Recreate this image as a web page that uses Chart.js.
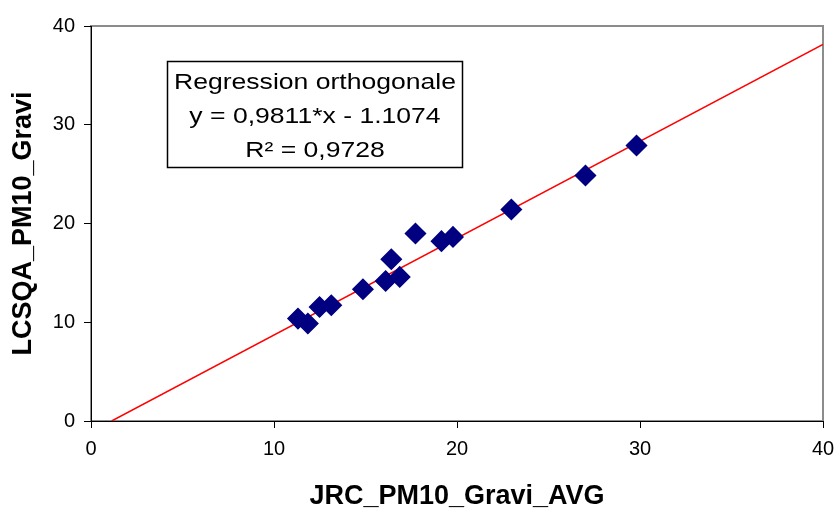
<!DOCTYPE html>
<html>
<head>
<meta charset="utf-8">
<script src="https://cdn.jsdelivr.net/npm/chart.js@4/dist/chart.umd.min.js"></script>
<style>
  html, body { margin: 0; padding: 0; background: #fff; }
  #wrap { position: relative; width: 835px; height: 509px; }
</style>
</head>
<body>
<div id="wrap"><canvas id="c"></canvas></div>
<script>
// mesures JRC vs LCSQA (PM10 gravi)
const jrcAvg = [11.31, 11.85, 12.49, 13.13, 14.86, 16.10, 16.87, 16.41, 17.73, 19.15, 19.78, 22.97, 27.02, 29.81];
const lcsqa  = [10.37, 9.87, 11.55, 11.72, 13.34, 14.18, 14.59, 16.38, 18.99, 18.21, 18.64, 21.42, 24.86, 27.90];
const fitSlope = 0.9811, fitIntercept = -1.1074;
const axisTicks = [0, 10, 20, 30, 40];
const boxLines = ["Regression orthogonale", "y = 0,9811*x - 1.1074", "R\u00b2 = 0,9728"];

const FONT = "'Liberation Sans', Arial, sans-serif";
const pts = jrcAvg.map((x, i) => ({ x: x, y: lcsqa[i] }));
const x0 = -fitIntercept / fitSlope, x1 = 40;
const fitPts = [{ x: x0, y: 0 }, { x: x1, y: fitSlope * x1 + fitIntercept }];

// cadre gris de la zone de tracé + encadré de la régression
const cadre = {
  id: "cadre",
  beforeDraw(chart) {
    const a = chart.chartArea, ctx = chart.ctx;
    ctx.save();
    ctx.strokeStyle = "#8c8c8c"; ctx.lineWidth = 2;
    ctx.strokeRect(a.left, a.top, a.right - a.left, a.bottom - a.top);
    ctx.restore();
  },
  afterDraw(chart) {
    const sx = chart.scales.x, sy = chart.scales.y, ctx = chart.ctx;
    const L = Math.round(sx.getPixelForValue(4.18)) + 0.5, R = Math.round(sx.getPixelForValue(20.25)) + 0.5;
    const T = Math.round(sy.getPixelForValue(36.5)) + 0.5, B = Math.round(sy.getPixelForValue(25.7)) + 0.5;
    ctx.save();
    ctx.fillStyle = "#fff"; ctx.fillRect(L, T, R - L, B - T);
    ctx.strokeStyle = "#000"; ctx.lineWidth = 1.5; ctx.strokeRect(L, T, R - L, B - T);
    ctx.font = "22px " + FONT; ctx.fillStyle = "#000"; ctx.textBaseline = "alphabetic"; ctx.textAlign = "center";
    const k = 282 / ctx.measureText(boxLines[0]).width;
    const cx = (L + R) / 2;
    boxLines.forEach((t, i) => {
      ctx.save();
      ctx.translate(cx, T + 27 + i * 34);
      ctx.scale(k, 1);
      ctx.fillText(t, 0, 0);
      ctx.restore();
    });
    ctx.restore();
  }
};

const axe = (titre, pad) => ({
  type: "linear", min: 0, max: 40,
  afterBuildTicks: (s) => { s.ticks = axisTicks.map(v => ({ value: v })); },
  grid: { drawOnChartArea: false, drawTicks: true, tickLength: 7, color: "#000", lineWidth: 1 },
  border: { display: true, color: "#000", width: 1 },
  ticks: { color: "#000", font: { family: FONT, size: 20 }, padding: 9 },
  title: { display: true, text: titre, color: "#000", font: { family: FONT, size: 27, weight: "bold" }, padding: pad }
});

const xAxe = axe("JRC_PM10_Gravi_AVG", { top: 0, bottom: -4 });
xAxe.afterFit = (s) => { s.height = 88; s.paddingRight = 0; s.paddingLeft = 0; };
const yAxe = axe("LCSQA_PM10_Gravi", { top: 7, bottom: 0 });
yAxe.afterFit = (s) => { s.width = 91; s.paddingTop = 0; s.paddingBottom = 0; };

new Chart(document.getElementById("c"), {
  type: "scatter",
  data: {
    datasets: [
      { label: "fit", type: "line", data: fitPts, borderColor: "#ff0000", borderWidth: 1.5, pointRadius: 0, fill: false, order: 2 },
      { label: "points", data: pts, pointStyle: "rectRot", pointRadius: 10, pointHoverRadius: 10,
        backgroundColor: "#000080", borderColor: "#000080", borderWidth: 1.5, order: 1 }
    ]
  },
  options: {
    responsive: true, maintainAspectRatio: false, animation: false,
    layout: { padding: { top: 26, right: 12, left: 0, bottom: 0 } },
    plugins: { legend: { display: false }, tooltip: { enabled: false } },
    scales: { x: xAxe, y: yAxe }
  },
  plugins: [cadre]
});
</script>
</body>
</html>
